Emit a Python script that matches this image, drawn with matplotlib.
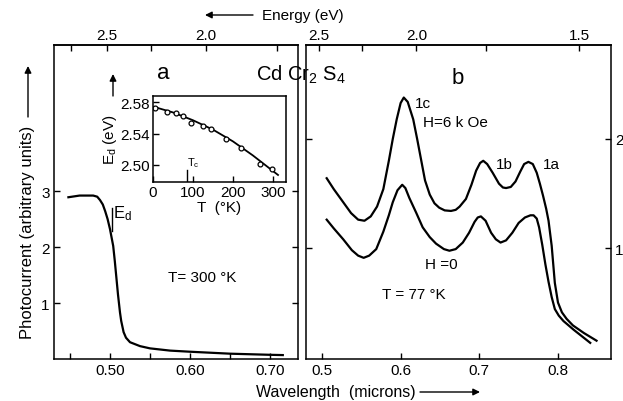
import matplotlib
matplotlib.use("Agg")
import matplotlib.pyplot as plt
from matplotlib.patches import FancyArrowPatch

plt.rcParams['font.family'] = ['Liberation Sans', 'DejaVu Sans']
plt.rcParams['mathtext.fontset'] = 'custom'
plt.rcParams['mathtext.rm'] = 'Liberation Sans'
plt.rcParams['mathtext.it'] = 'Liberation Sans'
plt.rcParams['font.size'] = 11

# panel a: photocurrent at 300 K
wl_a = [0.448, 0.462, 0.479, 0.484, 0.4875, 0.491, 0.494, 0.497, 0.500, 0.504, 0.506,
        0.508, 0.510, 0.5125, 0.514, 0.517, 0.520, 0.525, 0.5375, 0.55, 0.575, 0.60,
        0.65, 0.70, 0.716]
pc_a = [2.89, 2.92, 2.92, 2.90, 2.84, 2.76, 2.64, 2.50, 2.32, 2.02, 1.75,
        1.45, 1.15, 0.83, 0.68, 0.48, 0.38, 0.30, 0.23, 0.19, 0.15, 0.13,
        0.095, 0.075, 0.07]
ed_mark_wl = [0.502, 0.502]
ed_mark_pc = [2.29, 2.70]

# inset: Ed vs T
inset_T = [6, 36, 57, 76, 95, 125, 145, 182, 220, 268, 298]
inset_E = [2.5726, 2.5677, 2.5665, 2.5628, 2.5529, 2.5492, 2.5464, 2.5336, 2.5218, 2.5008, 2.4951]
fit_T = [3, 50, 100, 150, 200, 250, 313]
fit_E = [2.574, 2.567, 2.557, 2.545, 2.530, 2.512, 2.487]
Tc = 84

# panel b: 77 K, H = 6 kOe and H = 0
wl_h6 = [0.506, 0.515, 0.527, 0.537, 0.546, 0.554, 0.562, 0.570, 0.578, 0.585, 0.590,
         0.595, 0.600, 0.604, 0.609, 0.616, 0.621, 0.631, 0.637, 0.643, 0.649, 0.656,
         0.664, 0.670, 0.675, 0.683, 0.690, 0.696, 0.701, 0.705, 0.710, 0.717, 0.725,
         0.730, 0.734, 0.740, 0.746, 0.752, 0.757, 0.7624, 0.768, 0.773, 0.777, 0.781,
         0.785, 0.788, 0.792, 0.796, 0.800, 0.805, 0.811, 0.819, 0.833, 0.849]
pc_h6 = [1.64, 1.54, 1.42, 1.32, 1.26, 1.25, 1.29, 1.38, 1.54, 1.80, 2.00,
         2.18, 2.33, 2.38, 2.34, 2.18, 2.00, 1.62, 1.49, 1.41, 1.37, 1.345,
         1.34, 1.35, 1.38, 1.45, 1.58, 1.71, 1.78, 1.80, 1.77, 1.69, 1.59,
         1.555, 1.55, 1.56, 1.61, 1.70, 1.77, 1.79, 1.77, 1.69, 1.59, 1.48,
         1.36, 1.25, 1.02, 0.68, 0.50, 0.41, 0.35, 0.29, 0.22, 0.15]
wl_h0 = [0.506, 0.515, 0.527, 0.538, 0.546, 0.553, 0.560, 0.569, 0.578, 0.585, 0.590,
         0.596, 0.602, 0.606, 0.611, 0.620, 0.628, 0.637, 0.645, 0.655, 0.662, 0.670,
         0.679, 0.687, 0.694, 0.698, 0.702, 0.708, 0.715, 0.721, 0.727, 0.734, 0.742,
         0.750, 0.758, 0.765, 0.769, 0.773, 0.776, 0.780, 0.784, 0.788, 0.792, 0.796,
         0.801, 0.807, 0.820, 0.841]
pc_h0 = [1.26, 1.18, 1.08, 0.98, 0.93, 0.91, 0.93, 0.99, 1.15, 1.30, 1.42,
         1.53, 1.58, 1.55, 1.46, 1.32, 1.19, 1.10, 1.04, 0.99, 0.975, 0.99,
         1.05, 1.14, 1.24, 1.28, 1.29, 1.25, 1.14, 1.08, 1.05, 1.07, 1.14,
         1.23, 1.28, 1.30, 1.30, 1.27, 1.19, 1.03, 0.85, 0.69, 0.55, 0.44,
         0.38, 0.33, 0.25, 0.13]

energy_major = [2.5, 2.0]
energy_minor_a = [2.75, 2.25, 1.75]
energy_major_b = [2.5, 2.0, 1.5]
energy_minor_b = [2.25, 1.75]


def to_energy(x):
    return 1.24 / x


W, H = 623, 402
fig = plt.figure(figsize=(W / 100, H / 100), dpi=100)


def box(l, t, r, b):
    return [l / W, 1 - b / H, (r - l) / W, (b - t) / H]


ax_a = fig.add_axes(box(54, 46, 298, 360))
ax_b = fig.add_axes(box(306, 46, 611, 360))
ax_in = fig.add_axes(box(153, 97, 286, 183))

for ax in (ax_a, ax_b, ax_in):
    for s in ax.spines.values():
        s.set_linewidth(1.1)
    ax.tick_params(direction='in', length=4, width=1, which='both', pad=3, labelsize=11)

# panel a
ax_a.plot(wl_a, pc_a, color='black', lw=1.6)
ax_a.plot(ed_mark_wl, ed_mark_pc, color='black', lw=1)
ax_a.set_xlim(0.43, 0.735)
ax_a.set_ylim(0, 5.61)
ax_a.set_xticks([0.50, 0.60, 0.70])
ax_a.set_xticklabels(['0.50', '0.60', '0.70'])
ax_a.set_xticks([0.45, 0.55, 0.65], minor=True)
ax_a.set_yticks([1, 2, 3])
ax_a.tick_params(right=True, labelright=False)
ax_a.text(0.504, 2.62, 'E$_\\mathrm{d}$', fontsize=12, va='center')
ax_a.text(0.615, 1.46, 'T= 300 °K', fontsize=11, ha='center', va='center')
ax_a.text(0.566, 5.12, 'a', fontsize=16, ha='center', va='center')
sec_a = ax_a.secondary_xaxis('top', functions=(to_energy, to_energy))
sec_a.set_xticks(energy_major)
sec_a.set_xticklabels(['2.5', '2.0'])
sec_a.set_xticks(energy_minor_a, minor=True)
sec_a.tick_params(direction='in', length=4, width=1, which='both', pad=2, labelsize=11)
sec_a.spines['top'].set_linewidth(1.1)

# inset
ax_in.plot(fit_T, fit_E, color='black', lw=1.3)
ax_in.plot(inset_T, inset_E, 'o', mfc='white', mec='black', ms=3.5, mew=0.9)
ax_in.plot([Tc, Tc], [2.478, 2.493], color='black', lw=1)
ax_in.text(Tc, 2.495, 'T$_\\mathrm{c}$', fontsize=8, ha='left', va='bottom')
ax_in.set_xlim(0, 333)
ax_in.set_ylim(2.478, 2.588)
ax_in.set_xticks([0, 100, 200, 300])
ax_in.set_yticks([2.50, 2.54, 2.58])
ax_in.set_yticklabels(['2.50', '2.54', '2.58'])
ax_in.set_xlabel('T  (°K)', labelpad=1, fontsize=11)
ax_in.set_ylabel('E$_\\mathrm{d}$ (eV)', labelpad=1, fontsize=11)
ax_in.tick_params(pad=2)

# panel b
ax_b.plot(wl_h6, pc_h6, color='black', lw=1.6)
ax_b.plot(wl_h0, pc_h0, color='black', lw=1.6)
ax_b.set_xlim(0.4797, 0.8674)
ax_b.set_ylim(-0.018, 2.862)
ax_b.set_xticks([0.5, 0.6, 0.7, 0.8])
ax_b.set_yticks([1, 2])
ax_b.tick_params(left=True, right=True, labelleft=False, labelright=True)
ax_b.text(0.6185, 2.33, '1c', fontsize=11, va='center')
ax_b.text(0.629, 2.16, 'H=6 k Oe', fontsize=11, va='center')
ax_b.text(0.7215, 1.77, '1b', fontsize=11, va='center')
ax_b.text(0.781, 1.77, '1a', fontsize=11, va='center')
ax_b.text(0.631, 0.85, 'H =0', fontsize=11, va='center')
ax_b.text(0.617, 0.58, 'T = 77 °K', fontsize=11, ha='center', va='center')
ax_b.text(0.672, 2.56, 'b', fontsize=16, ha='center', va='center')
sec_b = ax_b.secondary_xaxis('top', functions=(to_energy, to_energy))
sec_b.set_xticks(energy_major_b)
sec_b.set_xticklabels(['2.5', '2.0', '1.5'])
sec_b.set_xticks(energy_minor_b, minor=True)
sec_b.tick_params(direction='in', length=4, width=1, which='both', pad=2, labelsize=11)
sec_b.spines['top'].set_linewidth(1.1)

# shared labels
fig.text(301 / W, 1 - 75 / H, 'Cd Cr$_2$ S$_4$', fontsize=14.5, ha='center', va='center')
fig.text(262 / W, 1 - 16 / H, 'Energy (eV)', fontsize=11, ha='left', va='center')
fig.text(256 / W, 1 - 393 / H, 'Wavelength  (microns)', fontsize=11.5, ha='left', va='center')
fig.text(28 / W, 1 - 232 / H, 'Photocurrent (arbitrary units)', fontsize=12,
         rotation=90, ha='center', va='center')

arrow = dict(arrowstyle='-|>', lw=1, color='black', mutation_scale=10, shrinkA=0, shrinkB=0)
fig.add_artist(FancyArrowPatch((253, H - 16), (205, H - 16), transform=None, **arrow))
fig.add_artist(FancyArrowPatch((420, H - 393), (480, H - 393), transform=None, **arrow))
fig.add_artist(FancyArrowPatch((28, H - 118), (28, H - 67), transform=None, **arrow))
fig.add_artist(FancyArrowPatch((113, H - 97), (113, H - 75), transform=None, **arrow))

fig.savefig('out.png', dpi=100)
